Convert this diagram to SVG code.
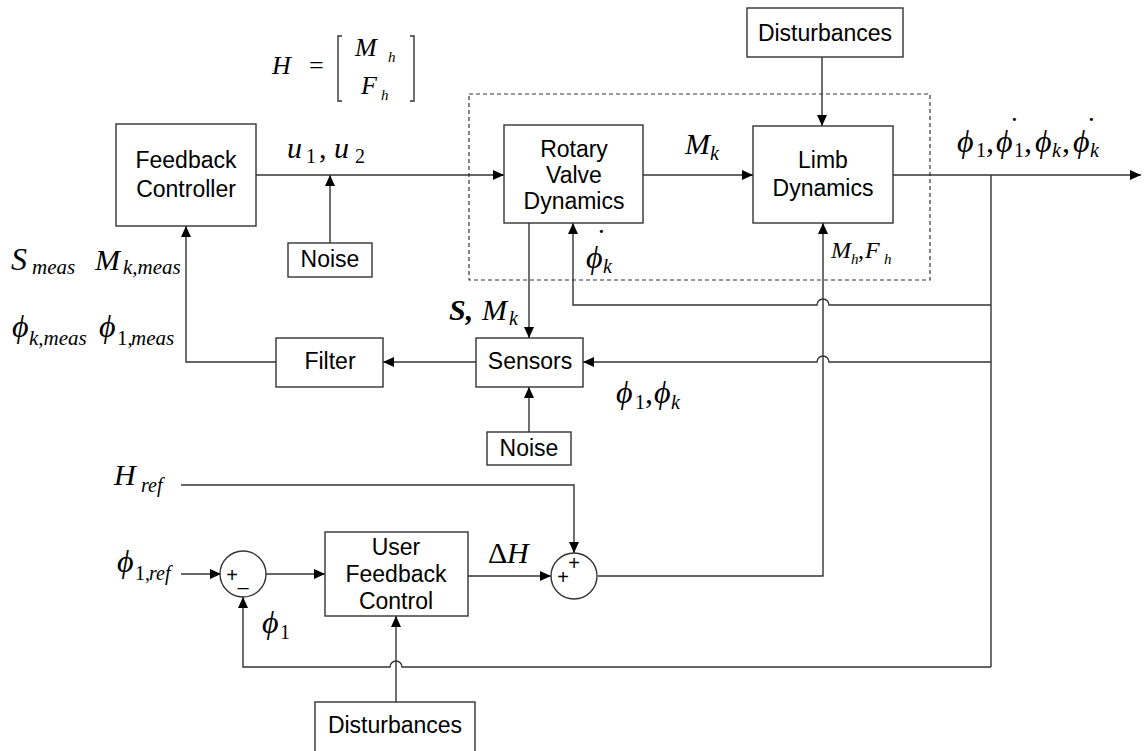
<svg xmlns="http://www.w3.org/2000/svg" width="1146" height="751" viewBox="0 0 1146 751">
<style>
.box{fill:#fff;stroke:#333;stroke-width:1.4}
.dash{fill:none;stroke:#333;stroke-width:1.2;stroke-dasharray:4,3}
.ln{fill:none;stroke:#333;stroke-width:1.4}
.arr{marker-end:url(#ah)}
.t{font-family:"Liberation Sans",Arial,sans-serif;font-size:23px;fill:#000;text-anchor:middle}
.m{font-family:"Liberation Serif","Times New Roman",serif;font-style:italic;fill:#000}
.r{font-style:normal}
.dot{font-family:"Liberation Serif","Times New Roman",serif;font-size:19px;font-weight:bold;fill:#000}
.pm{font-family:"Liberation Sans",Arial,sans-serif;font-size:20px;fill:#000;text-anchor:middle}
</style>
<defs>
<marker id="ah" markerUnits="userSpaceOnUse" markerWidth="12" markerHeight="10" refX="11" refY="5" orient="auto">
<path d="M0,0 L11,5 L0,10 z" fill="#000"/>
</marker>
</defs>
<rect width="1146" height="751" fill="#fff"/>

<rect class="dash" x="469" y="94" width="461" height="186"/>

<g id="connectors">
<path class="ln arr" d="M256,175 H504"/>
<path class="ln arr" d="M330,243 V175"/>
<path class="ln arr" d="M643,175 H753"/>
<path class="ln arr" d="M893,175 H1141"/>
<path class="ln arr" d="M822,57 V126"/>
<path class="ln" d="M991,175 V667"/>
<path class="ln arr" d="M991,305 H829 A6,6 0 0 0 817,305 H573 V223"/>
<path class="ln arr" d="M991,362 H829 A6,6 0 0 0 817,362 H583"/>
<path class="ln arr" d="M529,223 V338"/>
<path class="ln arr" d="M529,432 V387"/>
<path class="ln arr" d="M476,362 H383"/>
<path class="ln arr" d="M276,362 H186 V226"/>
<path class="ln arr" d="M181,485 H574 V553"/>
<path class="ln arr" d="M181,574 H221"/>
<path class="ln arr" d="M266,574 H325"/>
<path class="ln arr" d="M468,576 H551"/>
<path class="ln arr" d="M598,576 H823 V223"/>
<path class="ln arr" d="M991,667 H402 A6,6 0 0 0 390,667 H243 V597"/>
<path class="ln arr" d="M396,702 V616"/>
</g>

<g id="feedback-controller">
<rect class="box" x="116" y="124" width="140" height="102"/>
<text class="t" x="186" y="168">Feedback</text>
<text class="t" x="186" y="197">Controller</text>
</g>
<g id="rotary-valve">
<rect class="box" x="504" y="125" width="139" height="98"/>
<text class="t" x="574" y="157">Rotary</text>
<text class="t" x="574" y="183">Valve</text>
<text class="t" x="574" y="209">Dynamics</text>
</g>
<g id="limb-dynamics">
<rect class="box" x="753" y="126" width="140" height="97"/>
<text class="t" x="823" y="168">Limb</text>
<text class="t" x="823" y="196">Dynamics</text>
</g>
<g id="disturbances-top">
<rect class="box" x="747" y="8" width="156" height="49"/>
<text class="t" x="825" y="41">Disturbances</text>
</g>
<g id="noise-1">
<rect class="box" x="288" y="243" width="84" height="34"/>
<text class="t" x="330" y="267">Noise</text>
</g>
<g id="sensors">
<rect class="box" x="476" y="338" width="107" height="49"/>
<text class="t" x="530" y="369">Sensors</text>
</g>
<g id="noise-2">
<rect class="box" x="487" y="432" width="84" height="33"/>
<text class="t" x="529" y="456">Noise</text>
</g>
<g id="filter">
<rect class="box" x="276" y="338" width="107" height="49"/>
<text class="t" x="330" y="369">Filter</text>
</g>
<g id="user-feedback-control">
<rect class="box" x="325" y="532" width="143" height="84"/>
<text class="t" x="396" y="555">User</text>
<text class="t" x="396" y="582">Feedback</text>
<text class="t" x="396" y="609">Control</text>
</g>
<g id="disturbances-bottom">
<rect class="box" x="315" y="702" width="160" height="60"/>
<text class="t" x="395" y="733">Disturbances</text>
</g>
<g id="sum-1">
<circle class="box" cx="243" cy="574" r="23"/>
<text class="pm" x="232" y="582">+</text>
<text class="pm" x="243" y="594">–</text>
</g>
<g id="sum-2">
<circle class="box" cx="574" cy="576" r="23"/>
<text class="pm" x="574" y="570">+</text>
<text class="pm" x="563" y="584">+</text>
</g>

<g id="labels">
<text class="m" font-size="26"><tspan x="272" y="74">H</tspan></text>
<text class="m r" font-size="26" x="309" y="74">=</text>
<path class="ln" d="M342,36 H338 V101 H342 M410,36 H414 V101 H410"/>
<text class="m" font-size="26"><tspan x="355" y="56">M</tspan><tspan x="388" y="62" font-size="15">h</tspan></text>
<text class="m" font-size="26"><tspan x="361" y="94">F</tspan><tspan x="381" y="100" font-size="15">h</tspan></text>

<text class="m" font-size="30"><tspan x="287" y="158">u</tspan><tspan class="r" x="306" y="163" font-size="20">1</tspan><tspan class="r" x="319" y="158">,</tspan><tspan x="334" y="158">u</tspan><tspan class="r" x="355" y="163" font-size="20">2</tspan></text>

<text class="m" font-size="30"><tspan x="685" y="154">M</tspan><tspan x="710" y="160" font-size="20">k</tspan></text>

<text class="m" font-size="32"><tspan x="957" y="152">ϕ</tspan><tspan class="r" x="976" y="157" font-size="20">1</tspan><tspan class="r" x="986" y="152">,</tspan><tspan x="996" y="152">ϕ</tspan><tspan class="r" x="1014" y="157" font-size="20">1</tspan><tspan class="r" x="1024" y="152">,</tspan><tspan x="1035" y="152">ϕ</tspan><tspan x="1052" y="157" font-size="20">k</tspan><tspan class="r" x="1062" y="152">,</tspan><tspan x="1073" y="152">ϕ</tspan><tspan x="1090" y="157" font-size="20">k</tspan></text>
<text class="dot"><tspan x="1012" y="121">.</tspan><tspan x="1089" y="121">.</tspan></text>

<text class="m" font-size="32"><tspan x="11" y="270">S</tspan><tspan x="32" y="274" font-size="21">meas</tspan></text>
<text class="m" font-size="30"><tspan x="95" y="270">M</tspan><tspan x="123" y="274" font-size="21">k,meas</tspan></text>
<text class="m" font-size="32"><tspan x="12" y="337">ϕ</tspan><tspan x="29" y="345" font-size="21">k,meas</tspan></text>
<text class="m" font-size="32"><tspan x="99" y="337">ϕ</tspan><tspan class="r" x="117" y="345" font-size="21">1,</tspan><tspan x="131" y="345" font-size="21">meas</tspan></text>

<text class="m" font-size="32"><tspan x="586" y="268">ϕ</tspan><tspan x="603" y="273" font-size="20">k</tspan></text>
<text class="dot" x="599" y="233">.</text>

<text class="m" font-size="24"><tspan x="831" y="258">M</tspan><tspan x="851" y="264" font-size="15">h</tspan><tspan class="r" x="858" y="258">,</tspan><tspan x="865" y="258">F</tspan><tspan x="884" y="264" font-size="15">h</tspan></text>

<text class="m" font-size="30"><tspan x="449" y="320" font-weight="bold">S,</tspan><tspan x="482" y="320">M</tspan><tspan x="509" y="325" font-size="20">k</tspan></text>

<text class="m" font-size="32"><tspan x="616" y="403">ϕ</tspan><tspan class="r" x="635" y="409" font-size="20">1</tspan><tspan class="r" x="645" y="403">,</tspan><tspan x="654" y="403">ϕ</tspan><tspan x="671" y="409" font-size="20">k</tspan></text>

<text class="m" font-size="30"><tspan x="114" y="485">H</tspan><tspan x="141" y="492" font-size="20">ref</tspan></text>
<text class="m" font-size="32"><tspan x="117" y="572">ϕ</tspan><tspan class="r" x="135" y="580" font-size="20">1,</tspan><tspan x="149" y="580" font-size="20">ref</tspan></text>
<text class="m" font-size="32"><tspan x="262" y="633">ϕ</tspan><tspan class="r" x="280" y="639" font-size="20">1</tspan></text>
<text class="m" font-size="30"><tspan class="r" x="488" y="563">Δ</tspan><tspan x="507" y="563">H</tspan></text>
</g>
</svg>
